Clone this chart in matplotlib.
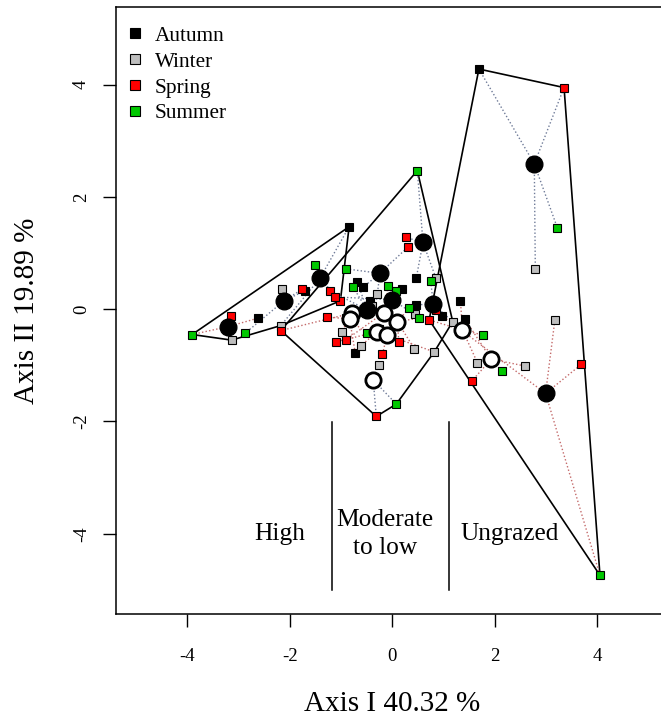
import numpy as np
import matplotlib
matplotlib.use("Agg")
import matplotlib.pyplot as plt
from matplotlib.lines import Line2D

plt.rcParams['font.family'] = ['Liberation Serif', 'DejaVu Serif']
plt.rcParams['axes.unicode_minus'] = False

# ---------------- data ----------------
seasons = ["Autumn", "Winter", "Spring", "Summer"]
season_colors = ["#000000", "#BEBEBE", "#FF0000", "#00C800"]

# site centroids (19 sites)
centroid_x = [-3.20, -2.11, -1.41, -0.24, 0.60, -0.49, -0.01, 0.80,
              -0.79, -0.83, -0.16, 0.10, -0.29, -0.10, -0.37,
              2.77, 2.99, 1.37, 1.93]
centroid_y = [-0.31, 0.15, 0.55, 0.64, 1.19, -0.01, 0.17, 0.09,
              -0.07, -0.18, -0.06, -0.22, -0.40, -0.46, -1.26,
              2.59, -1.50, -0.37, -0.89]
centroid_filled = [1, 1, 1, 1, 1, 1, 1, 1,
                   0, 0, 0, 0, 0, 0, 0,
                   1, 1, 0, 0]
site_grazing = ["High"] * 3 + ["Moderate to low"] * 12 + ["Ungrazed"] * 4
site_link = ["r", "s", "s", "s", "s", "s", "s", "s",
             "r", "r", "r", "r", "r", "r", "s",
             "s", "r", "r", "r"]

autumn_x = [-2.62, -1.70, -0.84, -0.57, 0.47, -0.68, 0.20, 0.47,
            -0.44, -0.72, -0.20, 0.12, -0.32, -0.08, -0.40,
            1.69, 0.98, 1.33, 1.42]
autumn_y = [-0.16, 0.33, 1.47, 0.39, 0.56, 0.49, 0.36, 0.08,
            0.14, -0.78, -0.10, -0.18, -0.36, -0.42, -1.20,
            4.28, -0.12, 0.15, -0.18]
winter_x = [-3.13, -2.15, -2.17, -0.29, 0.85, -0.40, 0.44, 1.18,
            -0.98, -0.90, -0.12, 0.43, -0.61, 0.82, -0.26,
            2.79, 3.17, 1.66, 2.58]
winter_y = [-0.55, 0.36, -0.29, 0.27, 0.56, 0.05, -0.09, -0.22,
            -0.40, -0.15, -0.02, -0.70, -0.65, -0.76, -1.00,
            0.71, -0.20, -0.95, -1.01]
spring_x = [-3.15, -1.75, -1.01, 0.31, 0.27, -1.22, -1.11, 0.85,
            -2.17, -1.28, -0.91, 0.13, -1.09, -0.19, -0.31,
            3.35, 3.69, 0.72, 1.55]
spring_y = [-0.12, 0.36, 0.15, 1.11, 1.28, 0.33, 0.22, -0.02,
            -0.38, -0.13, -0.55, -0.58, -0.58, -0.80, -1.91,
            3.95, -0.98, -0.19, -1.28]
summer_x = [-3.90, -2.87, -1.51, -0.90, 0.49, -0.76, 0.08, 0.75,
            -0.75, -0.50, -0.08, 0.52, -0.25, 0.33, 0.08,
            3.22, 4.05, 1.77, 2.14]
summer_y = [-0.45, -0.43, 0.79, 0.72, 2.47, 0.39, 0.33, 0.51,
            -0.05, -0.43, 0.42, -0.16, -0.35, 0.03, -1.69,
            1.45, -4.74, -0.46, -1.10]

grazing_levels = ["High", "Moderate\nto low", "Ungrazed"]
grazing_keys = ["High", "Moderate to low", "Ungrazed"]
grazing_label_x = [-2.19, -0.14, 2.29]
grazing_label_y = -4.0
grazing_divider_x = [-1.18, 1.10]
grazing_divider_y = [-2.01, -5.0]

x_label = "Axis I 40.32 %"
y_label = "Axis II 19.89 %"
x_ticks = [-4, -2, 0, 2, 4]
y_ticks = [-4, -2, 0, 2, 4]

link_colors = {"r": "#c46a6a", "s": "#6f7b98"}

season_x = [autumn_x, winter_x, spring_x, summer_x]
season_y = [autumn_y, winter_y, spring_y, summer_y]


def convex_hull(points):
    pts = sorted(set(points))
    if len(pts) <= 2:
        return pts

    def cross(o, a, b):
        return (a[0] - o[0]) * (b[1] - o[1]) - (a[1] - o[1]) * (b[0] - o[0])

    lower = []
    for p in pts:
        while len(lower) >= 2 and cross(lower[-2], lower[-1], p) <= 0:
            lower.pop()
        lower.append(p)
    upper = []
    for p in reversed(pts):
        while len(upper) >= 2 and cross(upper[-2], upper[-1], p) <= 0:
            upper.pop()
        upper.append(p)
    return lower[:-1] + upper[:-1]


# ---------------- figure ----------------
W, H = 661, 718
fig = plt.figure(figsize=(W / 100, H / 100), dpi=100)
ax_left = 115.7 / W
ax_bottom = (H - 614.0) / H
ax_w = 553.0 / W
ax_h = (614.0 - 7.3) / H
ax = fig.add_axes([ax_left, ax_bottom, ax_w, ax_h])
ax.set_xlim(-5.39, 5.39)
ax.set_ylim(-5.43, 5.38)

n_sites = len(centroid_x)

# convex hulls per grazing level
for key in grazing_keys:
    pts = []
    for i in range(n_sites):
        if site_grazing[i] == key:
            for s in range(4):
                pts.append((season_x[s][i], season_y[s][i]))
    h = convex_hull(pts)
    hx = [p[0] for p in h] + [h[0][0]]
    hy = [p[1] for p in h] + [h[0][1]]
    ax.plot(hx, hy, color="black", lw=1.2, zorder=2)

# spider lines centroid -> seasonal points
for i in range(n_sites):
    c = link_colors[site_link[i]]
    for s in range(4):
        ax.plot([centroid_x[i], season_x[s][i]], [centroid_y[i], season_y[s][i]],
                color=c, lw=1.0, linestyle=(0, (1, 1.6)), zorder=3)

# seasonal points
for s in range(4):
    ax.plot(season_x[s], season_y[s], linestyle="none", marker="s", ms=5.6,
            mfc=season_colors[s], mec="black", mew=0.8, zorder=4)

# centroids
cx = np.array(centroid_x)
cy = np.array(centroid_y)
cf = np.array(centroid_filled) == 1
ax.plot(cx[cf], cy[cf], linestyle="none", marker="o", ms=12, mfc="black",
        mec="black", mew=1, zorder=5)
ax.plot(cx[~cf], cy[~cf], linestyle="none", marker="o", ms=11, mfc="white",
        mec="black", mew=2.0, zorder=6)

# grazing dividers and labels
for dx in grazing_divider_x:
    ax.plot([dx, dx], grazing_divider_y, color="black", lw=1.1, zorder=2)
for lab, lx in zip(grazing_levels, grazing_label_x):
    ax.text(lx, grazing_label_y, lab, ha="center", va="center",
            fontsize=18.3, linespacing=1.35)

# legend
handles = [Line2D([], [], linestyle="none", marker="s", ms=6.5,
                  mfc=c, mec="black", mew=0.8) for c in season_colors]
ax.legend(handles, seasons, loc="upper left",
          bbox_to_anchor=(4.0 / 553.0, 1 - 7.0 / 606.7),
          frameon=False, fontsize=15.3, borderaxespad=0, borderpad=0.55,
          handlelength=0.35, handletextpad=0.75, labelspacing=0.28)

# axes styling
ax.set_xticks(x_ticks)
ax.set_yticks(y_ticks)
ax.tick_params(axis="both", direction="out", length=9.5, width=1.0,
               labelsize=13.5, color="black")
ax.tick_params(axis="x", pad=15)
ax.tick_params(axis="y", pad=9, labelrotation=90)
for lbl in ax.get_yticklabels():
    lbl.set_verticalalignment("center")
for sp in ax.spines.values():
    sp.set_linewidth(1.1)

ax.set_xlabel(x_label, fontsize=21, labelpad=19)
ax.set_ylabel(y_label, fontsize=21, labelpad=24)

fig.savefig("out.png", dpi=100)
